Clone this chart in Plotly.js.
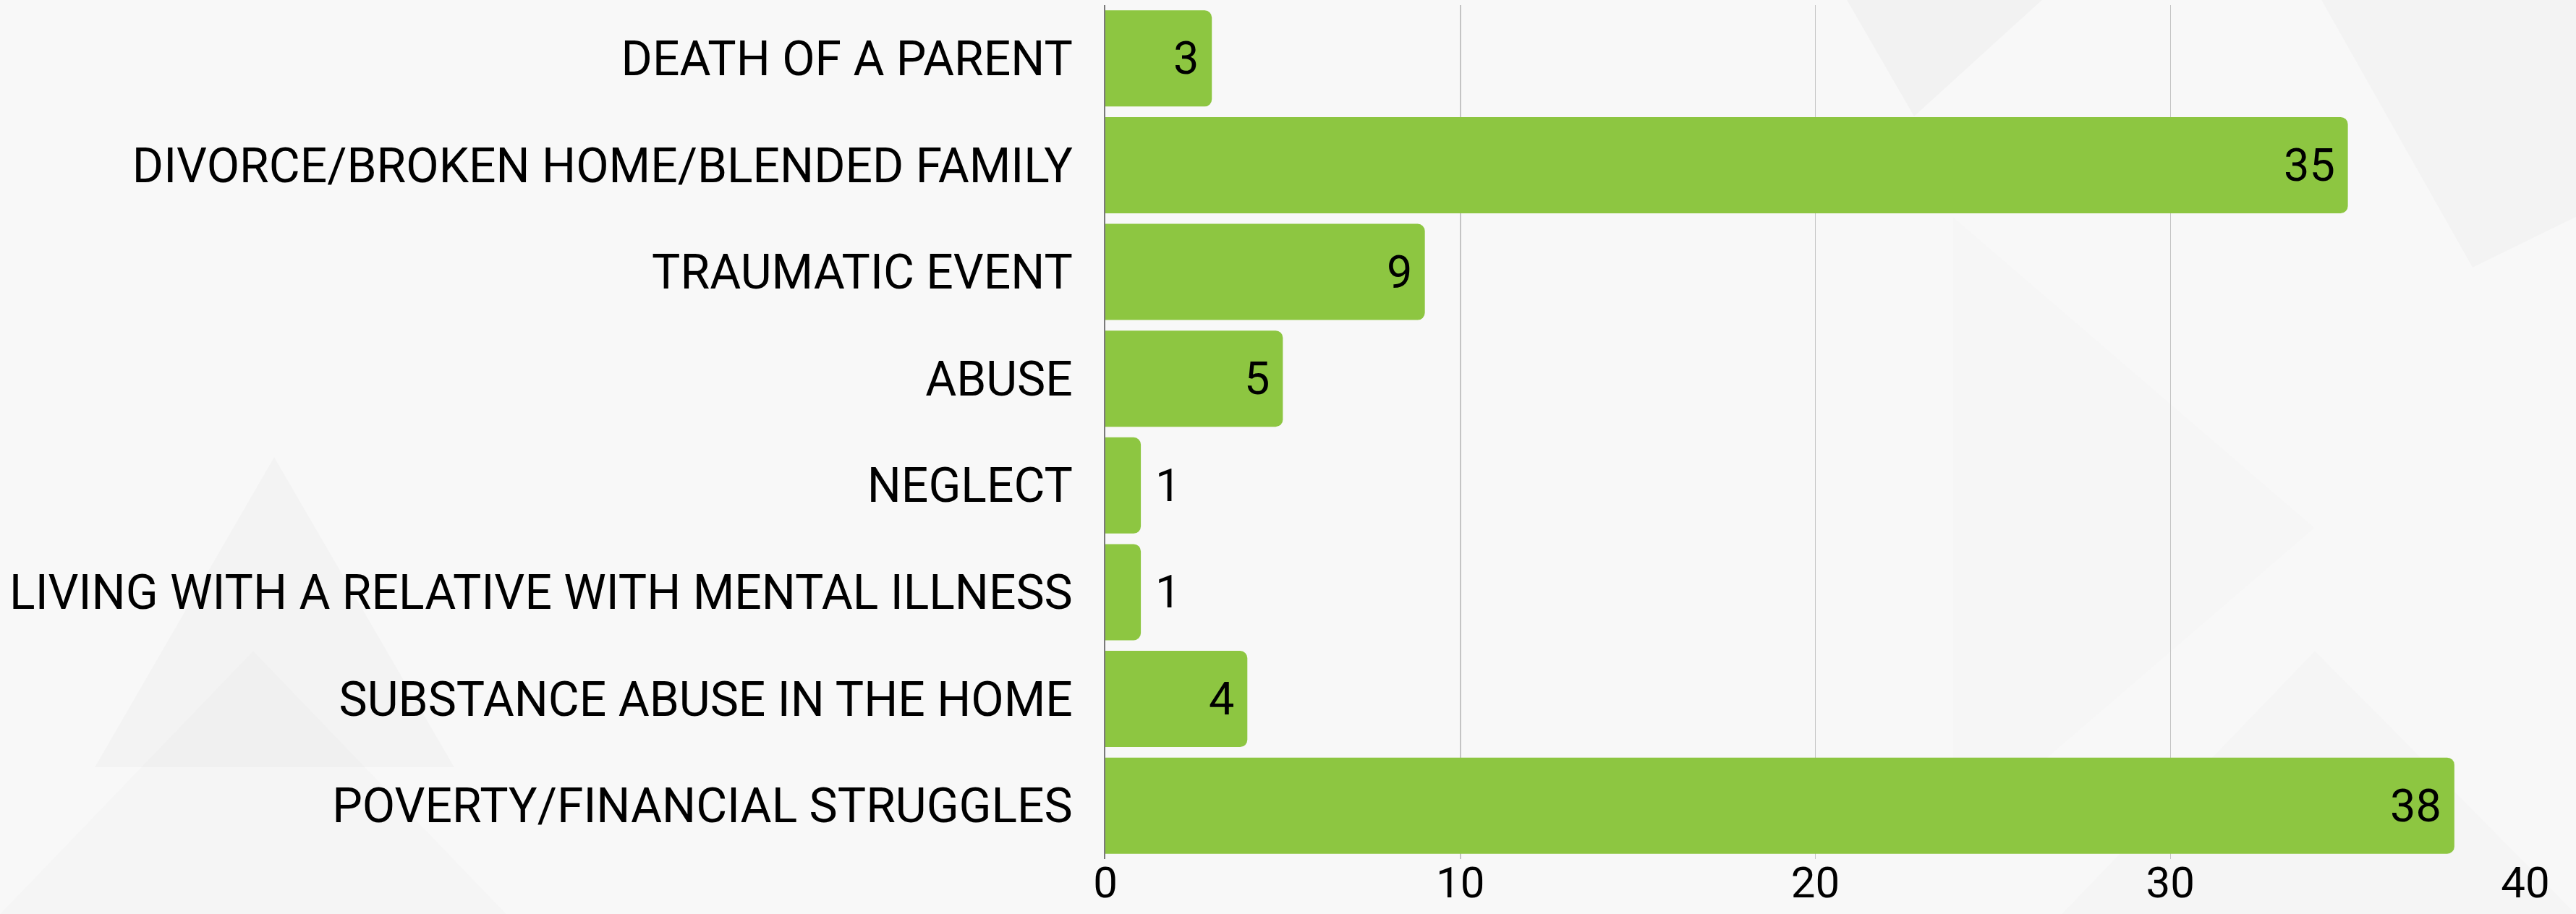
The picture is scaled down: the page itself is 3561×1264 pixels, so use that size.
<!DOCTYPE html>
<html>
<head>
<meta charset="utf-8">
<script src="https://cdn.plot.ly/plotly-3.0.1.min.js"></script>
<style>
  html, body { margin: 0; padding: 0; background: #f7f7f7; }
  #chart { width: 3561px; height: 1264px; }
</style>
</head>
<body>
<div id="chart"></div>
<script>
// ---- data ----
const categories = [
  "DEATH OF A PARENT",
  "DIVORCE/BROKEN HOME/BLENDED FAMILY",
  "TRAUMATIC EVENT",
  "ABUSE",
  "NEGLECT",
  "LIVING WITH A RELATIVE WITH MENTAL ILLNESS",
  "SUBSTANCE ABUSE IN THE HOME",
  "POVERTY/FINANCIAL STRUGGLES"
];
const counts = [3, 35, 9, 5, 1, 1, 4, 38];
const xTickValues = [0, 10, 20, 30, 40];

// ---- layout geometry (styling) ----
const W = 3561, H = 1264;
const M = { l: 1528, r: 70, t: 7, b: 76 };
const PW = W - M.l - M.r, PH = H - M.t - M.b;
const px = x => (x - M.l) / PW;          // pixel -> paper x
const py = y => 1 - (y - M.t) / PH;      // pixel -> paper y

function tri(points, color) {
  const d = 'M' + points.map(p => px(p[0]) + ',' + py(p[1])).join(' L') + ' Z';
  return { type: 'path', xref: 'paper', yref: 'paper', path: d,
           fillcolor: color, line: { width: 0 }, layer: 'below' };
}

const bgShapes = [
  tri([[131, 1061], [379, 632], [628, 1061]], 'rgba(0,0,0,0.02)'),
  tri([[2553, 0], [2823, 0], [2646, 161]], 'rgba(0,0,0,0.025)'),
  tri([[3209, 0], [3561, 0], [3561, 300], [3418, 370]], 'rgba(0,0,0,0.018)'),
  tri([[2700, 300], [3200, 730], [2700, 1160]], 'rgba(0,0,0,0.008)'),
  tri([[0, 1264], [350, 900], [700, 1264]], 'rgba(0,0,0,0.01)'),
  tri([[2850, 1264], [3200, 900], [3561, 1264]], 'rgba(0,0,0,0.012)')
];

const FONT = 'Roboto, "Open Sans", sans-serif';

const trace = {
  type: 'bar',
  orientation: 'h',
  y: categories,
  x: counts,
  marker: { color: '#8DC641', cornerradius: 10, line: { width: 0 } },
  hoverinfo: 'none'
};

const annotations = counts.map((v, i) => ({
  x: v, y: categories[i], xref: 'x', yref: 'y',
  text: String(v), showarrow: false,
  xanchor: v > 1 ? 'right' : 'left',
  xshift: v > 1 ? -16 : 18,
  yanchor: 'middle',
  font: { family: FONT, size: 63, color: '#000000' }
}));

const layout = {
  width: W, height: H,
  margin: M,
  paper_bgcolor: '#f8f8f8',
  plot_bgcolor: 'rgba(0,0,0,0)',
  showlegend: false,
  bargap: 0.099,
  font: { family: FONT, size: 64, color: '#000000' },
  xaxis: {
    range: [0, 40],
    tickvals: xTickValues,
    ticktext: xTickValues.map(String),
    showgrid: true, gridcolor: '#c4c4c4', gridwidth: 1.5,
    zeroline: false, showline: false,
    ticks: '', ticklabelstandoff: -8,
    tickfont: { family: FONT, size: 60, color: '#000000' },
    fixedrange: true
  },
  yaxis: {
    autorange: 'reversed',
    type: 'category',
    showgrid: false, zeroline: false,
    showline: true, linecolor: '#7a7a7a', linewidth: 2,
    ticks: '', ticklabelstandoff: 30,
    tickfont: { family: FONT, size: 66, color: '#000000' },
    fixedrange: true
  },
  shapes: bgShapes,
  annotations: annotations
};

Plotly.newPlot('chart', [trace], layout, { staticPlot: true, displayModeBar: false });
</script>
</body>
</html>
